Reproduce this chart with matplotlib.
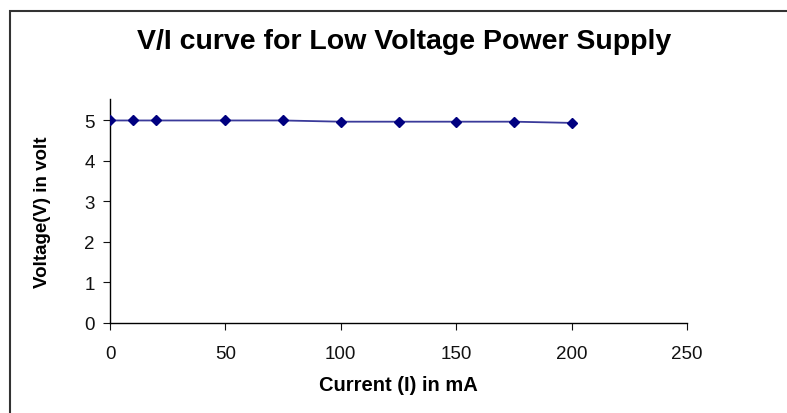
import matplotlib
matplotlib.use("Agg")
import matplotlib.pyplot as plt
from matplotlib.patches import Rectangle

current_ma = [0, 10, 20, 50, 75, 100, 125, 150, 175, 200]
voltage_v = [5.0, 5.0, 5.0, 5.0, 5.0, 4.97, 4.97, 4.97, 4.97, 4.94]
x_ticks = [0, 50, 100, 150, 200, 250]
y_ticks = [0, 1, 2, 3, 4, 5]

plt.rcParams['font.family'] = ['Liberation Sans', 'DejaVu Sans']

fig = plt.figure(figsize=(7.87, 4.14), dpi=100)
fig.patches.append(Rectangle((10/787, -0.1), 1.2, (414-12)/414 + 0.1, transform=fig.transFigure,
                             fill=False, edgecolor='#333333', linewidth=1.5))

ax = fig.add_axes([110/787, (414-324)/414, (687-110)/787, (324-100)/414])
ax.plot(current_ma, voltage_v, color='#3a3a9a', linewidth=1.3, zorder=2)
ax.plot(current_ma, voltage_v, linestyle='none', marker='D', markersize=5,
        markerfacecolor='#000080', markeredgecolor='#000080', zorder=3)
ax.set_xlim(0, 250)
ax.set_ylim(0, 5.53)
ax.set_xticks(x_ticks)
ax.set_yticks(y_ticks)
ax.spines['top'].set_visible(False)
ax.spines['right'].set_visible(False)
for s in ('left', 'bottom'):
    ax.spines[s].set_color('black')
    ax.spines[s].set_linewidth(1.0)
ax.tick_params(axis='both', direction='out', length=5, labelsize=13.5, colors='#111111')
ax.tick_params(axis='x', pad=11)
ax.tick_params(axis='y', pad=6)
ax.set_xlabel('Current (I) in mA', fontsize=14.5, fontweight='bold', labelpad=9)
ax.set_ylabel('Voltage(V) in volt', fontsize=13.5, fontweight='bold', labelpad=24)
fig.text(404/787, 1 - 42/414, 'V/I curve for Low Voltage Power Supply', ha='center', va='center',
         fontsize=20.5, fontweight='bold')

fig.savefig('out.png', dpi=100)
